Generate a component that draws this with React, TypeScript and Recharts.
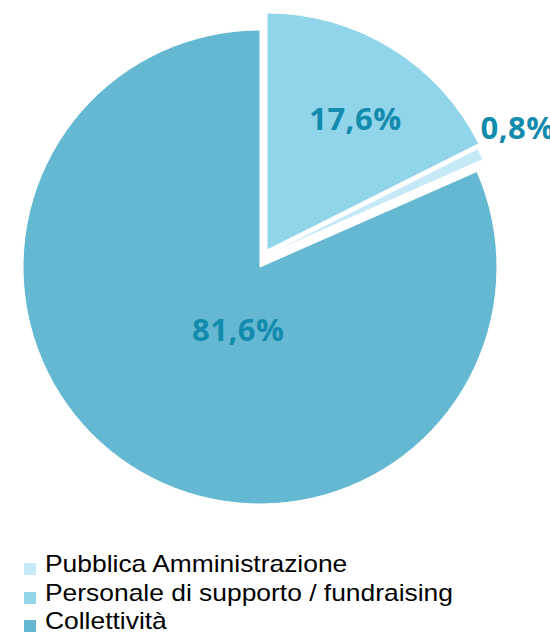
import React from 'react';
import { PieChart, Pie, Cell, Legend } from 'recharts';

// Slices, in clockwise order starting at 12 o'clock
const categories = ['Personale di supporto / fundraising', 'Pubblica Amministrazione', 'Collettività'];
const values = [17.6, 0.8, 81.6];
const valueLabels = ['17,6%', '0,8%', '81,6%'];
// Legend order
const legendOrder = ['Pubblica Amministrazione', 'Personale di supporto / fundraising', 'Collettività'];

const colors: Record<string, string> = {
  'Personale di supporto / fundraising': '#91d5eb',
  'Pubblica Amministrazione': '#c6e9f8',
  'Collettività': '#64b8d2',
};

// explode offsets and label placement (style, not data)
const explode = [
  { dx: 7, dy: -17 },
  { dx: 6, dy: -12 },
  { dx: 0, dy: 0 },
];
const labelPlacement = [
  { r: 0.67, nx: 5, ny: 3, anchor: 'middle' },
  { r: 1.0, nx: 0, ny: -27, anchor: 'start' },
  { r: 0.276, nx: 14, ny: 7, anchor: 'middle' },
];

const data = categories.map((name, i) => ({ name, value: values[i] }));

const RADIAN = Math.PI / 180;
const LABEL_COLOR = '#138bad';

const makeLabel = (target: number) => (props: any) => {
  const { cx, cy, midAngle, outerRadius, index } = props;
  if (index !== target) return null;
  const p = labelPlacement[target];
  const r = outerRadius * p.r;
  const x = cx + r * Math.cos(-midAngle * RADIAN) + p.nx;
  const y = cy + r * Math.sin(-midAngle * RADIAN) + p.ny;
  return (
    <text
      x={x}
      y={y}
      textAnchor={p.anchor as any}
      dominantBaseline="central"
      fill={LABEL_COLOR}
      style={{ fontFamily: '"Open Sans", sans-serif', fontWeight: 700, fontSize: 31, letterSpacing: 0.5 }}
    >
      {valueLabels[target]}
    </text>
  );
};

const renderLegend = () => (
  <div style={{ position: 'relative', width: 550 }}>
    {legendOrder.map((name) => (
      <div key={name} style={{ position: 'relative', height: 28.5 }}>
        <div
          style={{
            position: 'absolute',
            left: 24,
            top: 12.5,
            width: 12,
            height: 12,
            background: colors[name],
          }}
        />
        <div
          style={{
            position: 'absolute',
            left: 44.5,
            top: -0.5,
            lineHeight: '28.5px',
            fontSize: 24,
            fontFamily: '"Liberation Sans", Arial, sans-serif',
            color: '#000',
            whiteSpace: 'nowrap',
            transform: 'scaleX(1.1)',
            transformOrigin: 'left center',
          }}
        >
          {name}
        </div>
      </div>
    ))}
  </div>
);

export default function App() {
  const CX = 260;
  const CY = 267;
  const R = 237;
  return (
    <div style={{ position: 'fixed', left: 0, top: 0, width: 550, height: 632, overflow: 'hidden', background: '#fff' }}>
      <PieChart width={550} height={632} margin={{ top: 0, right: 0, bottom: 0, left: 0 }}>
        {categories.map((_, target) => (
          <Pie
            key={target}
            data={data}
            dataKey="value"
            nameKey="name"
            cx={CX + explode[target].dx}
            cy={CY + explode[target].dy}
            innerRadius={0}
            outerRadius={R}
            startAngle={90}
            endAngle={-270}
            isAnimationActive={false}
            label={makeLabel(target)}
            labelLine={false}
            legendType="none"
          >
            {data.map((d, i) => (
              <Cell
                key={d.name}
                fill={i === target ? colors[d.name] : 'transparent'}
                stroke={i === target ? '#ffffff' : 'none'}
                strokeWidth={i === target ? 1 : 0}
              />
            ))}
          </Pie>
        ))}
        <Legend content={renderLegend} wrapperStyle={{ position: 'absolute', left: 0, top: 550.5, width: 550 }} />
      </PieChart>
    </div>
  );
}
